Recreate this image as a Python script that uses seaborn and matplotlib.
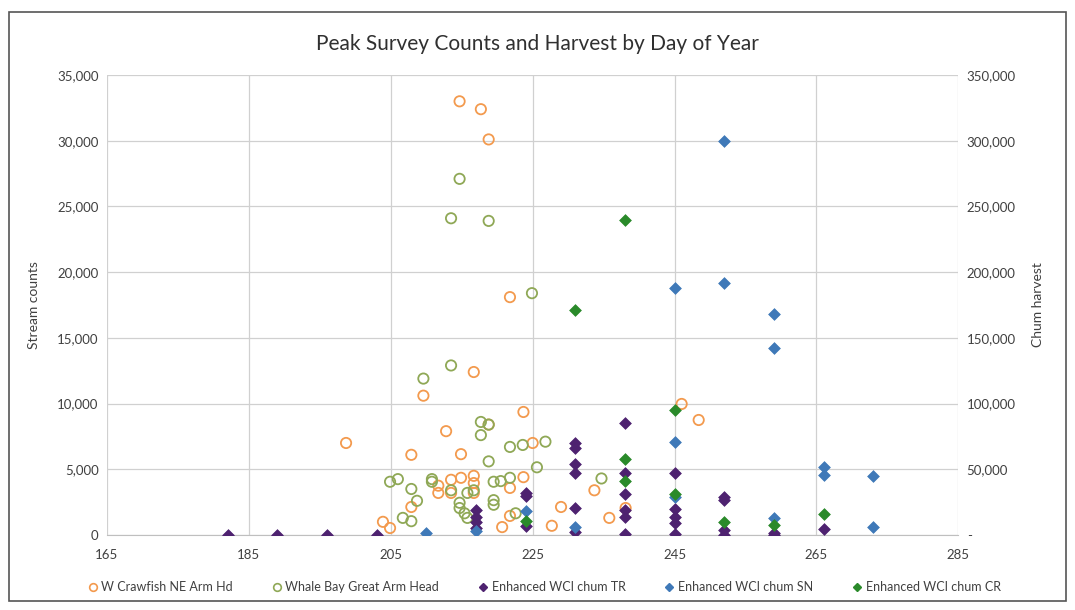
import pandas as pd
import matplotlib.pyplot as plt
import seaborn as sns
import numpy as np
from matplotlib.lines import Line2D
from matplotlib.patches import Rectangle
from matplotlib.ticker import FuncFormatter

sns.set_style("white")
plt.rcParams['font.family'] = ['Lato', 'DejaVu Sans']

# W Crawfish NE Arm Hd (stream counts, left axis)
crawfish_day = [214.7, 217.7, 218.8, 221.8, 216.7, 209.6, 223.7, 212.8, 198.7, 225.0,
                207.9, 214.9, 246.0, 248.4, 218.8, 213.5, 214.9, 216.7, 216.7, 211.7,
                211.7, 213.5, 216.7, 221.8, 223.7, 233.7, 207.9, 203.9, 204.9, 221.8,
                220.7, 229.0, 227.7, 235.8, 238.1]
crawfish_cnt = [33000, 32400, 30100, 18100, 12400, 10600, 9360, 7900, 7000, 7000,
                6100, 6150, 9970, 8750, 8400, 4200, 4350, 4500, 3950, 3750,
                3200, 3200, 3200, 3580, 4400, 3400, 2130, 1000, 530, 1450,
                600, 2130, 700, 1300, 2050]

# Whale Bay Great Arm Head (stream counts, left axis)
whale_day = [214.7, 213.5, 218.8, 224.9, 213.5, 209.6, 217.7, 218.8, 217.7, 221.8,
             223.6, 226.8, 218.8, 225.6, 204.9, 206.0, 207.9, 208.7, 206.7, 207.9,
             210.8, 210.8, 214.7, 214.7, 215.4, 215.8, 219.5, 220.5, 221.8, 219.5,
             219.5, 222.6, 234.7, 213.5, 215.8, 216.7]
whale_cnt = [27100, 24100, 23900, 18400, 12900, 11900, 8600, 8400, 7600, 6700,
             6850, 7100, 5600, 5150, 4050, 4250, 3500, 2600, 1300, 1050,
             4250, 4050, 2450, 2050, 1650, 1300, 4050, 4100, 4350, 2650,
             2300, 1650, 4300, 3400, 3200, 3400]

# Enhanced WCI chum harvest (right axis)
tr_day = [182, 189, 196, 203, 217, 217, 217, 217, 224, 224, 224,
          231, 231, 231, 231, 231, 231, 238, 238, 238, 238, 238, 238,
          245, 245, 245, 245, 245, 252, 252, 252, 252, 259, 259, 266]
tr_harv = [0, 0, 0, 0, 19000, 14000, 10000, 5000, 32000, 30000, 7000,
           70000, 66000, 54000, 47000, 20500, 2300, 85000, 47000, 31000, 19000, 13500, 1000,
           47000, 20000, 14000, 9000, 500, 29000, 26500, 4000, 0, 1500, 0, 4500]

sn_day = [210, 217, 224, 231, 245, 245, 245, 252, 252, 259, 259, 259, 266, 266, 273, 273]
sn_harv = [1500, 3000, 18000, 6100, 188000, 71000, 29000, 300000, 192000,
           168000, 142000, 13000, 52000, 46000, 45000, 6000]

cr_day = [224, 231, 238, 238, 238, 245, 245, 252, 259, 266]
cr_harv = [11000, 171000, 240000, 58000, 41000, 95000, 31000, 10000, 7500, 16000]

c_orange = "#F39A4E"
c_olive = "#8FA856"
c_purple = "#4E2270"
c_blue = "#3F79B8"
c_green = "#2A8A2A"
txt = "#404040"

fig = plt.figure(figsize=(10.75, 6.1), dpi=100)
ax = fig.add_axes([0.0995, 0.123, 0.792, 0.754])
ax2 = ax.twinx()

counts = pd.concat([
    pd.DataFrame({"day": crawfish_day, "count": crawfish_cnt, "site": "W Crawfish NE Arm Hd"}),
    pd.DataFrame({"day": whale_day, "count": whale_cnt, "site": "Whale Bay Great Arm Head"}),
])
harvest = pd.concat([
    pd.DataFrame({"day": tr_day, "harvest": tr_harv, "site": "Enhanced WCI chum TR"}),
    pd.DataFrame({"day": sn_day, "harvest": sn_harv, "site": "Enhanced WCI chum SN"}),
    pd.DataFrame({"day": cr_day, "harvest": cr_harv, "site": "Enhanced WCI chum CR"}),
])

for site, col in [("W Crawfish NE Arm Hd", c_orange), ("Whale Bay Great Arm Head", c_olive)]:
    d = counts[counts.site == site]
    sns.scatterplot(data=d, x="day", y="count", ax=ax, marker="o", s=55,
                    facecolors="none", edgecolors=col, linewidth=1.3, zorder=3)

for site, col in [("Enhanced WCI chum TR", c_purple), ("Enhanced WCI chum SN", c_blue),
                  ("Enhanced WCI chum CR", c_green)]:
    d = harvest[harvest.site == site]
    sns.scatterplot(data=d, x="day", y="harvest", ax=ax2, marker="D", s=36,
                    color=col, edgecolor=col, linewidth=0.5, zorder=3)

ax.set_xlim(165, 285)
ax.set_ylim(0, 35000)
ax2.set_ylim(0, 350000)
ax.set_xticks(np.arange(165, 286, 20))
ax.set_yticks(np.arange(0, 35001, 5000))
ax2.set_yticks(np.arange(0, 350001, 50000))
ax.yaxis.set_major_formatter(FuncFormatter(lambda v, p: f"{v:,.0f}"))
ax2.yaxis.set_major_formatter(FuncFormatter(lambda v, p: "-" if v == 0 else f"{v:,.0f}"))

ax.grid(True, color="#D0D0D0", linewidth=0.9)
ax.set_axisbelow(True)
for a in (ax, ax2):
    for s in a.spines.values():
        s.set_visible(False)
    a.tick_params(length=0, labelsize=9.5, colors=txt)
ax.spines["bottom"].set_visible(True)
ax.spines["bottom"].set_color("#BFBFBF")
ax.tick_params(axis="x", pad=10)
ax.tick_params(axis="y", pad=6)
ax2.tick_params(axis="y", pad=6)

ax.set_xlabel("")
ax.set_ylabel("Stream counts", fontsize=10, color=txt, labelpad=12)
ax2.set_ylabel("Chum harvest", fontsize=10, color=txt, labelpad=12)

fig.suptitle("Peak Survey Counts and Harvest by Day of Year", fontsize=15, color="#303030", y=0.945)

handles = [
    Line2D([], [], marker="o", ls="none", mfc="none", mec=c_orange, ms=5.5, mew=1.2),
    Line2D([], [], marker="o", ls="none", mfc="none", mec=c_olive, ms=5.5, mew=1.2),
    Line2D([], [], marker="D", ls="none", color=c_purple, ms=4),
    Line2D([], [], marker="D", ls="none", color=c_blue, ms=4),
    Line2D([], [], marker="D", ls="none", color=c_green, ms=4),
]
labels = ["W Crawfish NE Arm Hd", "Whale Bay Great Arm Head", "Enhanced WCI chum TR",
          "Enhanced WCI chum SN", "Enhanced WCI chum CR"]
fig.legend(handles, labels, loc="center", bbox_to_anchor=(0.505, 0.037), ncol=5, frameon=False,
           fontsize=9, handletextpad=0.1, columnspacing=2.9, handlelength=1.2, labelcolor=txt)

fig.add_artist(Rectangle((0.008, 0.015), 0.984, 0.965, transform=fig.transFigure,
                         fill=False, edgecolor="#555555", linewidth=1.2))

fig.savefig("out.png", dpi=100)
